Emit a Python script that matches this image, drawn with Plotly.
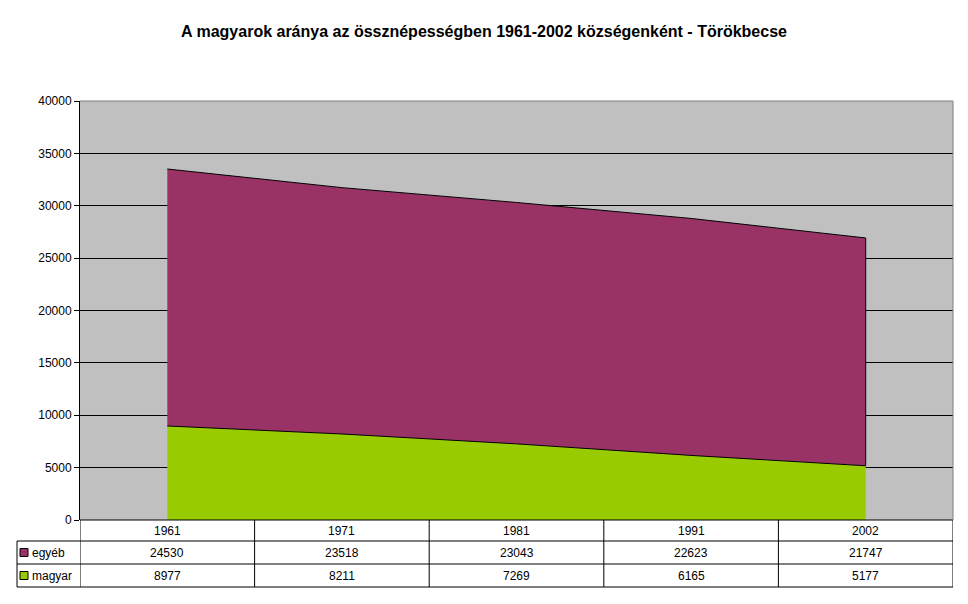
import plotly.graph_objects as go

# data
years = ["1961", "1971", "1981", "1991", "2002"]
egyeb = [24530, 23518, 23043, 22623, 21747]
magyar = [8977, 8211, 7269, 6165, 5177]

W, H = 968, 604
L, R, T, B = 80, 15, 101, 84
ph = H - T - B  # plot height in px
pw = W - L - R

PURPLE = "#993366"
GREEN = "#99CC00"
FONT = "Liberation Sans, Arial, sans-serif"

xs = list(range(len(years)))

fig = go.Figure()
fig.add_trace(go.Scatter(x=xs, y=magyar, stackgroup="one", mode="lines",
                         line=dict(color="black", width=1), fillcolor=GREEN,
                         name="magyar", hoverinfo="y"))
fig.add_trace(go.Scatter(x=xs, y=egyeb, stackgroup="one", mode="lines",
                         line=dict(color="black", width=1), fillcolor=PURPLE,
                         name="egyéb", hoverinfo="y"))


def py(px):
    # pixels below the plot bottom -> paper y
    return -px / ph


shapes = []
ann = []
line = dict(color="black", width=1)
rows = [0, 21, 44, 67]  # table row boundaries, px below x axis
left = -63 / pw

for r in rows[1:]:
    shapes.append(dict(type="line", xref="paper", yref="paper",
                       x0=left, x1=1, y0=py(r), y1=py(r), line=line))
for i in range(len(years) + 1):
    shapes.append(dict(type="line", xref="x", yref="paper", x0=i - 0.5, x1=i - 0.5,
                       y0=py(0), y1=py(rows[3]), line=line))
shapes.append(dict(type="line", xref="paper", yref="paper", x0=left, x1=left,
                   y0=py(rows[1]), y1=py(rows[3]), line=line))
shapes.append(dict(type="line", xref="paper", yref="paper", x0=0, x1=1,
                   y0=0, y1=0, line=line))
# right edge of purple area
shapes.append(dict(type="line", xref="x", yref="y", x0=4, x1=4, y0=magyar[-1],
                   y1=magyar[-1] + egyeb[-1], line=line))
# grey border top/right of plot area
grey = dict(color="#808080", width=1)
shapes.append(dict(type="line", xref="paper", yref="paper", x0=0, x1=1, y0=1, y1=1, line=grey))
shapes.append(dict(type="line", xref="paper", yref="paper", x0=1, x1=1, y0=0, y1=1, line=grey))

for i, yr in enumerate(years):
    ann.append(dict(x=i, y=py(10.5), xref="x", yref="paper", text=yr,
                    showarrow=False, yanchor="middle"))
for r, (name, vals, col) in enumerate([("egyéb", egyeb, PURPLE), ("magyar", magyar, GREEN)]):
    yc = py((rows[r + 1] + rows[r + 2]) / 2)
    for i, v in enumerate(vals):
        ann.append(dict(x=i, y=yc, xref="x", yref="paper", text=str(v),
                        showarrow=False, yanchor="middle"))
    shapes.append(dict(type="rect", xref="paper", yref="paper",
                       x0=-60 / pw, x1=-52 / pw, y0=yc - 4 / ph, y1=yc + 4 / ph,
                       fillcolor=col, line=dict(color="black", width=1)))
    ann.append(dict(x=-50 / pw, y=yc, xref="paper", yref="paper", text=name,
                    showarrow=False, xanchor="left", yanchor="middle"))

fig.update_layout(
    width=W, height=H,
    margin=dict(l=L, r=R, t=T, b=B),
    paper_bgcolor="white",
    plot_bgcolor="#C0C0C0",
    font=dict(family=FONT, size=12, color="black"),
    showlegend=False,
    title=dict(text="<b>A magyarok aránya az össznépességben 1961-2002 községenként - Törökbecse</b>",
               x=0.5, xref="container", xanchor="center", y=1 - 31 / H, yanchor="middle",
               font=dict(size=16, family=FONT)),
    xaxis=dict(range=[-0.5, 4.5], showticklabels=False, showgrid=False,
               zeroline=False, ticks="", showline=False),
    yaxis=dict(range=[0, 40000], dtick=5000, tickformat="d", showgrid=True,
               gridcolor="black", gridwidth=1, zeroline=False, showline=True,
               linecolor="black", ticks="outside", ticklen=5, tickcolor="black",
               tickfont=dict(size=12)),
    shapes=shapes,
    annotations=ann,
)

fig.write_html("out.html", config={"displayModeBar": False},
               post_script="document.body.style.margin='0';")
